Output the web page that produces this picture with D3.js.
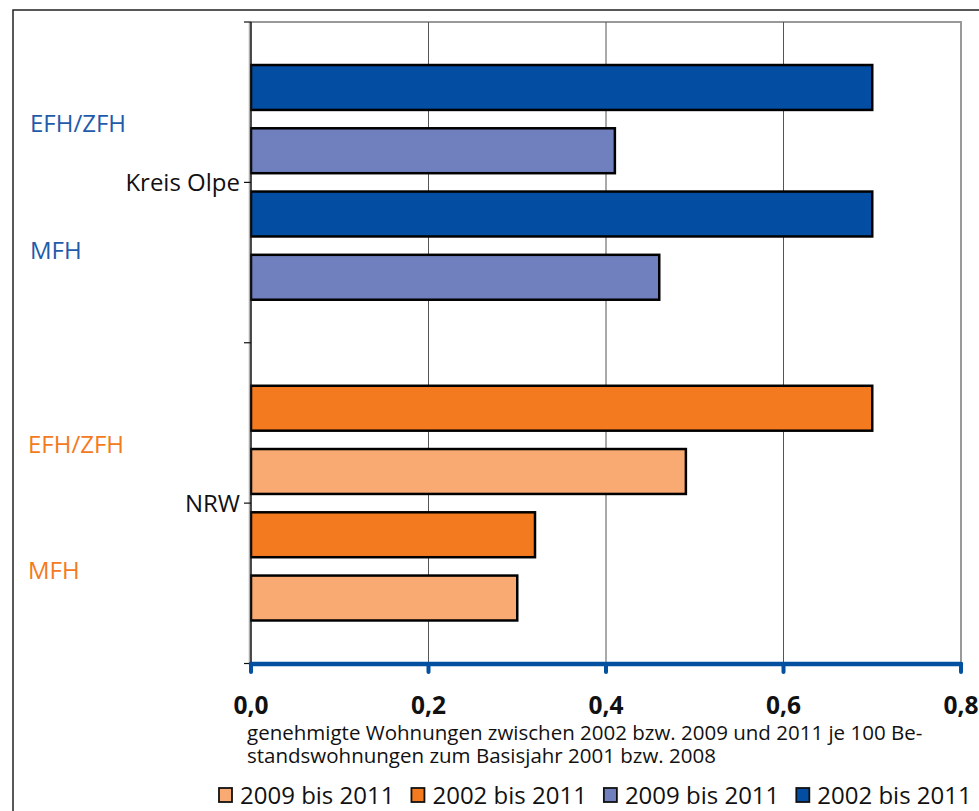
<!DOCTYPE html>
<html><head><meta charset="utf-8">
<script src="https://cdn.jsdelivr.net/npm/d3@7"></script>
<style>
html,body{margin:0;padding:0;background:#fff;}
svg{display:block;font-family:"Open Sans",sans-serif;}
</style></head>
<body>
<svg id="c" width="979" height="811"></svg>
<script>
// ---- data ----
const regions = ["Kreis Olpe", "NRW"];
const types = ["EFH/ZFH", "MFH"];
const periods = ["2002 bis 2011", "2009 bis 2011"];
const olpeEFH = [0.70, 0.41];
const olpeMFH = [0.70, 0.46];
const nrwEFH = [0.70, 0.49];
const nrwMFH = [0.32, 0.30];
const xTicks = [0, 0.2, 0.4, 0.6, 0.8];
const xTickLabels = ["0,0", "0,2", "0,4", "0,6", "0,8"];
const axisTitle = ["genehmigte Wohnungen zwischen 2002 bzw. 2009 und 2011 je 100 Be-",
                   "standswohnungen zum Basisjahr 2001 bzw. 2008"];
const legendLabels = ["2009 bis 2011", "2002 bis 2011", "2009 bis 2011", "2002 bis 2011"];

const regionColors = {
  "Kreis Olpe": {"2002 bis 2011": "#034EA2", "2009 bis 2011": "#7080BE", label: "#1E5BAA"},
  "NRW": {"2002 bis 2011": "#F47A20", "2009 bis 2011": "#F9AA72", label: "#F47A20"}
};
const legendColors = ["#F9AA72", "#F47A20", "#7080BE", "#034EA2"];

const valueTable = {"Kreis Olpe": {"EFH/ZFH": olpeEFH, "MFH": olpeMFH},
                    "NRW": {"EFH/ZFH": nrwEFH, "MFH": nrwMFH}};
const rows = [];
regions.forEach(r => types.forEach(t => periods.forEach((p, i) => {
  rows.push({region: r, type: t, period: p, key: t + "|" + p, value: valueTable[r][t][i]});
})));

// ---- layout ----
const svg = d3.select("#c");
const L = 251, R = 961, T = 22, B = 663.5;

// outer frame
svg.append("rect").attr("x", 13).attr("y", 10).attr("width", 1000).attr("height", 900)
  .attr("fill", "none").attr("stroke", "#222").attr("stroke-width", 1.5);

const x = d3.scaleLinear().domain([0, 0.8]).range([L, R]);
const yRegion = d3.scaleBand().domain(regions).range([T, B]).padding(0);
const inner = d3.scaleBand().domain(types.flatMap(t => periods.map(p => t + "|" + p)))
  .range([0, yRegion.bandwidth()]).paddingInner(0.29).paddingOuter(0.68);

// plot border (gray top and right)
svg.append("path").attr("d", `M${L},${T}H${R}V${B}`).attr("fill", "none")
  .attr("stroke", "#999").attr("stroke-width", 2);

// gridlines
svg.append("g").selectAll("line").data(xTicks.filter(v => v > 0 && v < 0.8)).join("line")
  .attr("x1", d => x(d)).attr("x2", d => x(d)).attr("y1", T).attr("y2", B)
  .attr("stroke", "#555").attr("stroke-width", 1);

// bars
svg.append("g").selectAll("rect").data(rows).join("rect")
  .attr("x", x(0))
  .attr("y", d => yRegion(d.region) + inner(d.key))
  .attr("width", d => x(d.value) - x(0))
  .attr("height", inner.bandwidth())
  .attr("fill", d => regionColors[d.region][d.period])
  .attr("stroke", "#000").attr("stroke-width", 2.5);

// y axis
svg.append("line").attr("x1", L - 1.5).attr("x2", L - 1.5).attr("y1", T).attr("y2", B)
  .attr("stroke", "#aaa").attr("stroke-width", 1.5);
svg.append("line").attr("x1", L).attr("x2", L).attr("y1", T).attr("y2", B)
  .attr("stroke", "#111").attr("stroke-width", 1.5);
const yTickPos = [T, B, ...regions.map(r => yRegion(r) + yRegion.bandwidth() / 2), yRegion("NRW")];
svg.append("g").selectAll("line").data(yTickPos).join("line")
  .attr("x1", L - 7).attr("x2", L).attr("y1", d => d).attr("y2", d => d)
  .attr("stroke", "#111").attr("stroke-width", 1.2);

// region labels
svg.append("g").selectAll("text").data(regions).join("text")
  .attr("x", 240).attr("y", d => yRegion(d) + yRegion.bandwidth() / 2 + 8.5)
  .attr("text-anchor", "end").attr("font-size", 24).attr("fill", "#111").text(d => d);

// type labels
const typeLabels = regions.flatMap(r => types.map(t => ({region: r, type: t})));
svg.append("g").selectAll("text").data(typeLabels).join("text")
  .attr("x", d => d.region === "NRW" ? 28 : 30)
  .attr("y", d => {
    const top = yRegion(d.region) + inner(d.type + "|" + periods[0]);
    const bot = yRegion(d.region) + inner(d.type + "|" + periods[1]) + inner.bandwidth();
    return (top + bot) / 2 + 13;
  })
  .attr("font-size", 24).attr("fill", d => regionColors[d.region].label).text(d => d.type);

// x axis (blue)
const xa = svg.append("g");
xa.append("line").attr("x1", x(0)).attr("x2", x(0.8)).attr("y1", 664).attr("y2", 664)
  .attr("stroke", "#0350A0").attr("stroke-width", 4.5).attr("stroke-linecap", "round");
xa.selectAll("line.t").data(xTicks).join("line").attr("class", "t")
  .attr("x1", d => x(d)).attr("x2", d => x(d)).attr("y1", 664).attr("y2", 672)
  .attr("stroke", "#0350A0").attr("stroke-width", 4).attr("stroke-linecap", "round");
xa.selectAll("text").data(xTicks).join("text")
  .attr("x", d => x(d)).attr("y", 714).attr("text-anchor", "middle")
  .attr("font-size", 24.5).attr("font-weight", "bold").attr("fill", "#111")
  .text((d, i) => xTickLabels[i]);

// axis title
svg.append("g").selectAll("text").data(axisTitle).join("text")
  .attr("x", 247).attr("y", (d, i) => 740 + i * 22.5)
  .attr("font-size", 20.5).attr("fill", "#111").text(d => d);

// legend
const lg = svg.append("g");
let lx = 219;
legendLabels.forEach((lab, i) => {
  lg.append("rect").attr("x", lx).attr("y", 788).attr("width", 13).attr("height", 14)
    .attr("fill", legendColors[i]).attr("stroke", "#111").attr("stroke-width", 1.8);
  const t = lg.append("text").attr("x", lx + 21).attr("y", 803.5).attr("font-size", 24)
    .attr("fill", "#111").text(lab);
  lx += 21 + t.node().getComputedTextLength() + 17;
});
</script>
</body></html>
